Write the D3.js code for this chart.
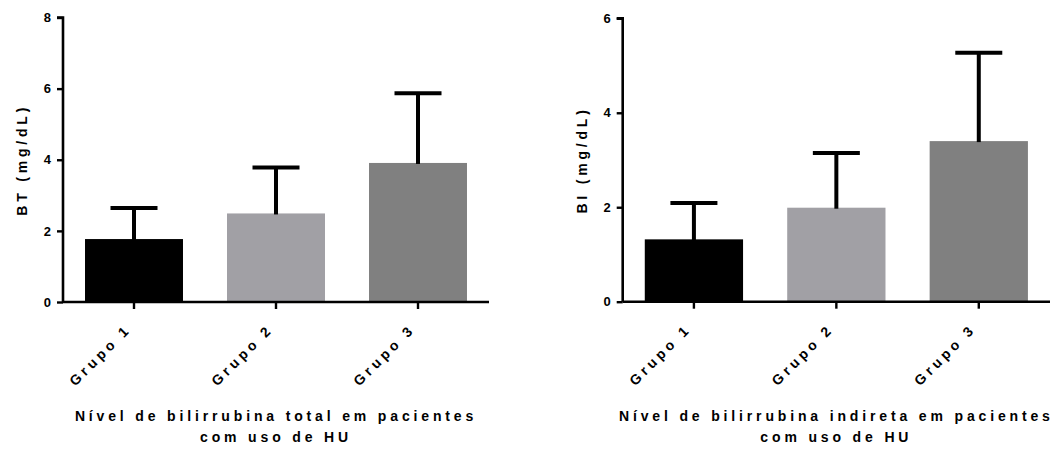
<!DOCTYPE html>
<html>
<head>
<meta charset="utf-8">
<script src="https://cdn.jsdelivr.net/npm/d3@7"></script>
<style>
  body { margin: 0; background: #fff; }
  svg text { font-family: "Liberation Sans", Arial, sans-serif; font-weight: bold; fill: #000; }
</style>
</head>
<body>
<svg id="canvas" width="1061" height="452"></svg>
<script>
// data
const groups = ['Grupo 1', 'Grupo 2', 'Grupo 3'];
const barColors = ['#000000', '#a1a0a5', '#808080'];

const btMeans = [1.77, 2.49, 3.91];
const btSD = [0.87, 1.29, 1.96];
const btTicks = [0, 2, 4, 6, 8];

const biMeans = [1.32, 1.99, 3.40];
const biSD = [0.77, 1.16, 1.87];
const biTicks = [0, 2, 4, 6];

let canvas = d3.select('#canvas');

const drawPanel = (opt) => {
  let g = canvas.append('g');

  let x = d3.scaleBand()
            .domain(groups)
            .range([opt.left, opt.right])
            .paddingInner(0.31)
            .paddingOuter(0.155);

  let y = d3.scaleLinear()
            .domain([0, opt.max])
            .range([opt.bottom, opt.top]);

  // bars
  g.selectAll('rect.bar')
    .data(opt.means)
    .enter()
    .append('rect')
    .attr('class', 'bar')
    .attr('x', (d, i) => x(groups[i]))
    .attr('y', (d) => y(d))
    .attr('width', x.bandwidth())
    .attr('height', (d) => y(0) - y(d))
    .attr('fill', (d, i) => barColors[i]);

  // error bars (mean + SD, upper only)
  let capW = 47;
  opt.means.forEach((m, i) => {
    let cx = x(groups[i]) + x.bandwidth() / 2;
    g.append('line')
      .attr('x1', cx).attr('x2', cx)
      .attr('y1', y(m) + 1).attr('y2', y(m + opt.sd[i]))
      .attr('stroke', '#000').attr('stroke-width', 4);
    g.append('line')
      .attr('x1', cx - capW / 2).attr('x2', cx + capW / 2)
      .attr('y1', y(m + opt.sd[i])).attr('y2', y(m + opt.sd[i]))
      .attr('stroke', '#000').attr('stroke-width', 4);
  });

  // y axis
  let yAxis = d3.axisLeft(y).tickValues(opt.ticks).tickFormat(d3.format('d')).tickSize(6).tickPadding(6);
  let ya = g.append('g')
    .attr('transform', `translate(${opt.left},0)`)
    .call(yAxis);
  ya.select('.domain').attr('stroke-width', 2.6).attr('d', `M-6,${y(opt.max)}H0V${y(0)}`);
  ya.selectAll('.tick line').attr('stroke-width', 2.4);
  ya.selectAll('.tick text').style('font-size', '13px');

  // x axis
  let xAxis = d3.axisBottom(x).tickSize(7).tickFormat('');
  let xa = g.append('g')
    .attr('transform', `translate(0,${opt.bottom})`)
    .call(xAxis);
  xa.select('.domain').attr('stroke-width', 2.6).attr('d', `M${opt.left},0H${opt.right}`);
  xa.selectAll('.tick line').attr('stroke-width', 2.4);

  // rotated group labels
  groups.forEach((name) => {
    let cx = x(name) + x.bandwidth() / 2;
    g.append('text')
      .attr('transform', `translate(${cx - 2},${opt.bottom + 28}) rotate(-45)`)
      .attr('text-anchor', 'end')
      .style('font-size', '14px')
      .style('letter-spacing', '3.8px')
      .text(name);
  });

  // y label
  g.append('text')
    .attr('transform', `translate(${opt.labelX},${(opt.top + opt.bottom) / 2}) rotate(-90)`)
    .attr('text-anchor', 'middle')
    .style('font-size', '14px')
    .style('letter-spacing', '3.8px')
    .text(opt.yLabel);

  // title under chart
  let tx = x(groups[1]) + x.bandwidth() / 2;
  opt.title.forEach((line, i) => {
    g.append('text')
      .attr('x', tx)
      .attr('y', 421 + i * 21)
      .attr('text-anchor', 'middle')
      .style('font-size', '14px')
      .style('letter-spacing', '3.85px')
      .text(line);
  });
};

drawPanel({
  left: 63, right: 489, top: 17.5, bottom: 302, max: 8,
  means: btMeans, sd: btSD, ticks: btTicks,
  yLabel: 'BT (mg/dL)', labelX: 27,
  title: ['Nível de bilirrubina total em pacientes', 'com uso de HU']
});

drawPanel({
  left: 622.7, right: 1050, top: 18.3, bottom: 301.7, max: 6,
  means: biMeans, sd: biSD, ticks: biTicks,
  yLabel: 'BI (mg/dL)', labelX: 587,
  title: ['Nível de bilirrubina indireta em pacientes', 'com uso de HU']
});
</script>
</body>
</html>
